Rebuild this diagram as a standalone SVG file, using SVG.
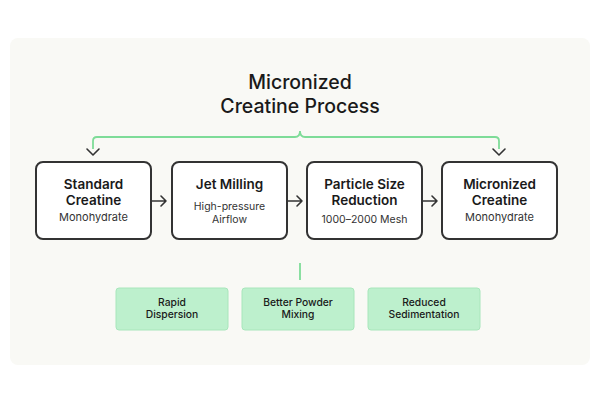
<svg xmlns="http://www.w3.org/2000/svg" width="600" height="400" viewBox="0 0 600 400">
<style>
.t{font-family:Inter,"Liberation Sans",sans-serif;fill:#1a1a1a;text-anchor:middle}
.h{font-size:13.5px;font-weight:600}
.s{font-size:11px;font-weight:400;fill:#333}
.g{font-size:10.3px;font-weight:500}
.box{fill:#fff;stroke:#333;stroke-width:2}
.gbox{fill:#bdf0cd;stroke:#a8e6bb;stroke-width:1}
.gl{fill:none;stroke:#7edc98;stroke-width:1.8}
.ar{fill:none;stroke:#333;stroke-width:1.6;stroke-linecap:round;stroke-linejoin:round}
</style>
<rect width="600" height="400" fill="#fff"/>
<rect x="10" y="38" width="580" height="327" rx="8" fill="#f9f9f5"/>
<g id="title">
<text class="t" x="300" y="89" style="font-size:19.5px;font-weight:500">Micronized</text>
<text class="t" x="300" y="113" style="font-size:19.5px;font-weight:500">Creatine Process</text>
</g>
<g id="connectors">
<path class="gl" d="M93,149 V141 Q93,137 97,137 H295 Q300,137 300,131 Q300,137 305,137 H495 Q499,137 499,141 V149"/>
<path class="ar" d="M87,149 L93,155 L99,149"/>
<path class="ar" d="M493,149 L499,155 L505,149"/>
<path class="ar" d="M152,201 H166 M161,196 L166,201 L161,206"/>
<path class="ar" d="M288,201 H302 M297,196 L302,201 L297,206"/>
<path class="ar" d="M423,201 H437 M432,196 L437,201 L432,206"/>
<path class="gl" d="M300,263 V280"/>
</g>
<g id="n1">
<rect class="box" x="36" y="162" width="115" height="77" rx="7"/>
<text class="t h" x="93.5" y="189">Standard</text>
<text class="t h" x="93.5" y="205">Creatine</text>
<text class="t s" x="93.5" y="221">Monohydrate</text>
</g>
<g id="n2">
<rect class="box" x="172" y="162" width="115" height="77" rx="7"/>
<text class="t h" x="229.5" y="189">Jet Milling</text>
<text class="t s" x="229.5" y="210" style="font-size:10.5px">High-pressure</text>
<text class="t s" x="229.5" y="223" style="font-size:10.5px">Airflow</text>
</g>
<g id="n3">
<rect class="box" x="307" y="162" width="115" height="77" rx="7"/>
<text class="t h" x="364.5" y="189">Particle Size</text>
<text class="t h" x="364.5" y="205">Reduction</text>
<text class="t s" x="364.5" y="223" style="font-size:10.5px">1000–2000 Mesh</text>
</g>
<g id="n4">
<rect class="box" x="442" y="162" width="115" height="77" rx="7"/>
<text class="t h" x="499.5" y="189">Micronized</text>
<text class="t h" x="499.5" y="205">Creatine</text>
<text class="t s" x="499.5" y="221">Monohydrate</text>
</g>
<g id="b1">
<rect class="gbox" x="116" y="288" width="112" height="42" rx="3"/>
<text class="t g" x="172" y="306">Rapid</text>
<text class="t g" x="172" y="318">Dispersion</text>
</g>
<g id="b2">
<rect class="gbox" x="242" y="288" width="112" height="42" rx="3"/>
<text class="t g" x="298" y="306">Better Powder</text>
<text class="t g" x="298" y="318">Mixing</text>
</g>
<g id="b3">
<rect class="gbox" x="368" y="288" width="112" height="42" rx="3"/>
<text class="t g" x="424" y="306">Reduced</text>
<text class="t g" x="424" y="318">Sedimentation</text>
</g>
</svg>
